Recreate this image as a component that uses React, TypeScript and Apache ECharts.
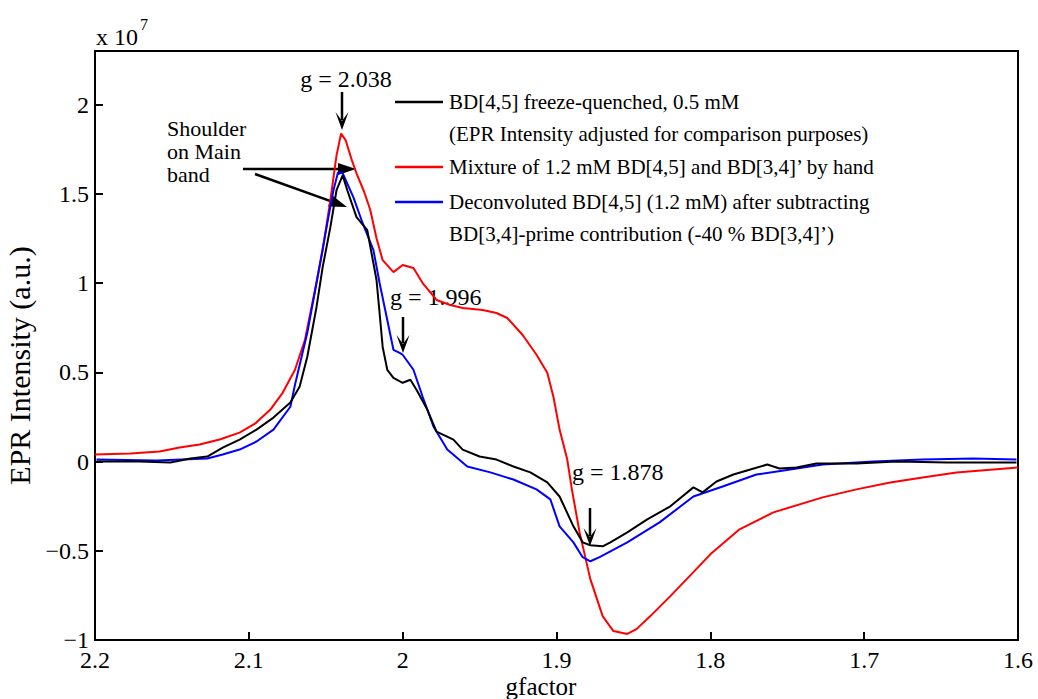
import React, { useEffect, useRef } from "react";
import * as echarts from "echarts";

// g-factor positions and intensities (x 10^7)
const blackG = [2.199, 2.171, 2.151, 2.138, 2.127, 2.117, 2.106, 2.095, 2.084, 2.073, 2.067, 2.062, 2.056, 2.052, 2.047, 2.043, 2.039, 2.036, 2.030, 2.023, 2.017, 2.015, 2.013, 2.010, 2.006, 2.000, 1.995, 1.991, 1.984, 1.978, 1.967, 1.961, 1.950, 1.939, 1.928, 1.917, 1.906, 1.898, 1.889, 1.883, 1.878, 1.870, 1.865, 1.854, 1.841, 1.826, 1.811, 1.805, 1.796, 1.785, 1.774, 1.763, 1.755, 1.744, 1.731, 1.705, 1.679, 1.646, 1.623, 1.601];
const blackI = [0, 0, -0.005, 0.017, 0.028, 0.078, 0.123, 0.179, 0.246, 0.330, 0.419, 0.587, 0.866, 1.089, 1.313, 1.520, 1.603, 1.520, 1.369, 1.296, 1.017, 0.832, 0.642, 0.514, 0.469, 0.441, 0.458, 0.402, 0.291, 0.168, 0.123, 0.067, 0.028, 0.011, -0.028, -0.061, -0.117, -0.196, -0.363, -0.453, -0.469, -0.475, -0.453, -0.397, -0.324, -0.251, -0.145, -0.173, -0.112, -0.073, -0.045, -0.017, -0.039, -0.034, -0.011, -0.011, 0, -0.006, -0.006, -0.006];

const redG = [2.2, 2.177, 2.158, 2.145, 2.132, 2.119, 2.106, 2.096, 2.086, 2.078, 2.070, 2.0635, 2.057, 2.052, 2.047, 2.043, 2.040, 2.037, 2.033, 2.030, 2.025, 2.021, 2.017, 2.013, 2.006, 2.000, 1.993, 1.987, 1.978, 1.969, 1.961, 1.948, 1.939, 1.932, 1.922, 1.913, 1.906, 1.902, 1.898, 1.893, 1.890, 1.885, 1.878, 1.870, 1.863, 1.854, 1.848, 1.839, 1.826, 1.811, 1.800, 1.781, 1.759, 1.727, 1.705, 1.683, 1.662, 1.640, 1.6];
const redI = [0.039, 0.045, 0.056, 0.078, 0.095, 0.123, 0.162, 0.212, 0.291, 0.385, 0.514, 0.682, 0.961, 1.184, 1.464, 1.715, 1.838, 1.799, 1.687, 1.615, 1.510, 1.408, 1.251, 1.128, 1.061, 1.101, 1.084, 1.0, 0.905, 0.877, 0.860, 0.849, 0.832, 0.804, 0.709, 0.598, 0.497, 0.363, 0.179, 0.011, -0.156, -0.397, -0.659, -0.866, -0.950, -0.966, -0.939, -0.866, -0.754, -0.620, -0.520, -0.380, -0.285, -0.201, -0.156, -0.117, -0.089, -0.061, -0.034];

const blueG = [2.199, 2.160, 2.127, 2.117, 2.106, 2.095, 2.084, 2.073, 2.070, 2.062, 2.056, 2.049, 2.045, 2.042, 2.039, 2.032, 2.026, 2.019, 2.015, 2.010, 2.006, 2.002, 2.000, 1.993, 1.987, 1.980, 1.971, 1.958, 1.943, 1.928, 1.913, 1.904, 1.898, 1.889, 1.883, 1.878, 1.872, 1.854, 1.833, 1.811, 1.792, 1.770, 1.748, 1.727, 1.694, 1.662, 1.629, 1.601];
const blueI = [0.011, 0.006, 0.017, 0.039, 0.067, 0.112, 0.179, 0.307, 0.430, 0.721, 1.0, 1.335, 1.520, 1.620, 1.615, 1.480, 1.335, 1.184, 1.0, 0.793, 0.626, 0.609, 0.598, 0.514, 0.363, 0.196, 0.067, -0.028, -0.061, -0.101, -0.156, -0.212, -0.363, -0.453, -0.536, -0.559, -0.536, -0.453, -0.341, -0.196, -0.140, -0.073, -0.045, -0.017, 0, 0.011, 0.017, 0.011];

const seriesNames = [
  "BD[4,5] freeze-quenched, 0.5 mM",
  "Mixture of 1.2 mM BD[4,5] and BD[3,4]’ by hand",
  "Deconvoluted BD[4,5] (1.2 mM) after subtracting",
];
const legendSecondLines = [
  "(EPR Intensity adjusted for comparison purposes)",
  "",
  "BD[3,4]-prime contribution (-40 % BD[3,4]’)",
];
const seriesColors = ["#000000", "#ff0000", "#0000ff"];

const xTicks = { min: 1.6, max: 2.2, interval: 0.1 };
const yTicks = { min: -1, max: 2.3, interval: 0.5 };
const xAxisTitle = "gfactor";
const yAxisTitle = "EPR Intensity (a.u.)";

const FONT = "'Liberation Serif', 'Times New Roman', serif";

function zip(a: number[], b: number[]) {
  return a.map((v, i) => [v, b[i]]);
}

function arrowDown(x: number, y1: number, y2: number) {
  return [
    { type: "line", shape: { x1: x, y1, x2: x, y2: y2 - 10 }, style: { stroke: "#000", lineWidth: 2.5 } },
    { type: "polygon", shape: { points: [[x - 6.5, y2 - 18], [x, y2 - 9], [x + 6.5, y2 - 18], [x, y2]] }, style: { fill: "#000" } },
  ];
}

function arrowTo(x1: number, y1: number, x2: number, y2: number) {
  const ang = Math.atan2(y2 - y1, x2 - x1);
  const L = 18, W = 6;
  const bx = x2 - L * Math.cos(ang), by = y2 - L * Math.sin(ang);
  const px = -Math.sin(ang) * W, py = Math.cos(ang) * W;
  const mx = x2 - 10 * Math.cos(ang), my = y2 - 10 * Math.sin(ang);
  return [
    { type: "line", shape: { x1, y1, x2: mx, y2: my }, style: { stroke: "#000", lineWidth: 2.5 } },
    { type: "polygon", shape: { points: [[bx + px, by + py], [x2, y2], [bx - px, by - py]] }, style: { fill: "#000" } },
  ];
}

function txt(x: number, y: number, text: string, size = 21, align = "left") {
  return {
    type: "text",
    x,
    y,
    style: { text, fill: "#000", font: `${size}px ${FONT}`, align, verticalAlign: "middle" },
  };
}

export default function App() {
  const ref = useRef<HTMLDivElement>(null);
  useEffect(() => {
    if (!ref.current) return;
    const chart = echarts.init(ref.current, undefined, { renderer: "svg" });
    const legendYs = [102, 167, 202];
    const legendGraphics: any[] = [];
    seriesNames.forEach((n, i) => {
      const y = legendYs[i];
      legendGraphics.push({ type: "line", shape: { x1: 395, y1: y, x2: 443, y2: y }, style: { stroke: seriesColors[i], lineWidth: 2.5 } });
      legendGraphics.push(txt(449, y, n));
      if (legendSecondLines[i]) legendGraphics.push(txt(449, y + 32, legendSecondLines[i]));
    });
    chart.setOption({
      animation: false,
      backgroundColor: "#fff",
      grid: {
        left: 95, right: 20, top: 51, bottom: 59,
        outerBoundsMode: "none",
        containLabel: false,
        show: true, borderColor: "#000", borderWidth: 2, backgroundColor: "transparent",
      },
      xAxis: {
        type: "value",
        inverse: true,
        min: xTicks.min,
        max: xTicks.max,
        interval: xTicks.interval,
        axisLine: { onZero: false, lineStyle: { color: "#000", width: 2 } },
        axisTick: { inside: true, length: 8, lineStyle: { color: "#000", width: 2 } },
        axisLabel: { fontFamily: FONT, fontSize: 24, color: "#000", margin: 8, formatter: (v: number) => String(Number(v.toFixed(1))) },
        splitLine: { show: false },
      },
      yAxis: {
        type: "value",
        min: yTicks.min,
        max: yTicks.max,
        interval: yTicks.interval,
        name: yAxisTitle,
        nameLocation: "middle",
        nameGap: 56,
        nameTextStyle: { fontFamily: FONT, fontSize: 30, color: "#000", padding: [0, 40, 0, 0] },
        axisLine: { onZero: false, lineStyle: { color: "#000", width: 2 } },
        axisTick: { inside: true, length: 8, lineStyle: { color: "#000", width: 2 } },
        axisLabel: {
          fontFamily: FONT,
          fontSize: 24,
          color: "#000",
          margin: 6,
          showMaxLabel: false,
          formatter: (v: number) => {
            if (Math.abs(v * 2 - Math.round(v * 2)) > 1e-6) return "";
            return String(Number(v.toFixed(1))).replace("-", "−");
          },
        },
        splitLine: { show: false },
      },
      series: [
        { name: seriesNames[0], type: "line", data: zip(blackG, blackI), showSymbol: false, symbol: "none", lineStyle: { color: seriesColors[0], width: 2 }, z: 3 },
        { name: seriesNames[1], type: "line", data: zip(redG, redI), showSymbol: false, symbol: "none", lineStyle: { color: seriesColors[1], width: 2 }, z: 2 },
        { name: seriesNames[2], type: "line", data: zip(blueG, blueI), showSymbol: false, symbol: "none", lineStyle: { color: seriesColors[2], width: 2 }, z: 2 },
      ],
      graphic: [
        txt(541, 686, xAxisTitle, 25, "center"),
        txt(96, 37, "x 10", 24),
        txt(140, 24, "7", 16),
        txt(346, 79, "g = 2.038", 24, "center"),
        ...arrowDown(342, 92, 130),
        txt(167, 128, "Shoulder", 22),
        txt(167, 151, "on Main", 22),
        txt(167, 174, "band", 22),
        ...arrowTo(243, 169, 356, 169),
        ...arrowTo(255, 174, 347, 207),
        txt(390, 297, "g = 1.996", 24),
        ...arrowDown(403, 317, 353),
        txt(572, 472, "g = 1.878", 24),
        ...arrowDown(590, 508, 546),
        ...legendGraphics,
      ],
    });
    return () => chart.dispose();
  }, []);
  return <div ref={ref} style={{ width: 1038, height: 699, position: "absolute", left: 0, top: 0 }} />;
}
